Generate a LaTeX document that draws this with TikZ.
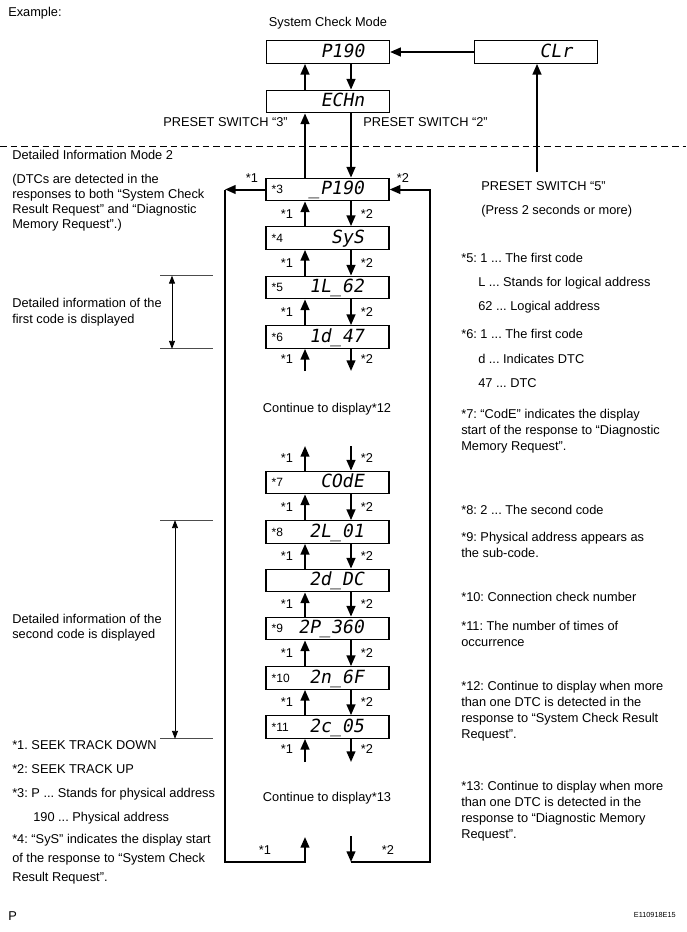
\documentclass[tikz,border=0pt]{standalone}
\usepackage{fontspec}
\setmainfont{Liberation Sans}
\newfontfamily\lcd[FakeSlant=0.18]{DejaVu Sans Mono}
\usetikzlibrary{arrows.meta,calc}
\frenchspacing
\newcommand\dbx[5]{%
  \node[dbox] (#1) at (#2,#3) {};
  \node[disp] (#1d) at ($(#1.center)+(36.5,5.2)$) {#5};
  \node[tag] (#1t) at ($(#1.west)+(6,4)$) {#4};
}
\begin{document}
\begin{tikzpicture}[x=0.75pt,y=-0.75pt,
  every node/.style={font=\fontsize{9.6}{12}\selectfont, inner sep=0pt},
  dbox/.style={draw, line width=0.9pt, minimum width=92.25pt, minimum height=16.9pt},
  disp/.style={font=\lcd\fontsize{13.6}{14}\selectfont, anchor=base east},
  tag/.style={font=\fontsize{9}{10}\selectfont, anchor=base west},
  arr/.style={line width=1.5pt, -{Triangle[length=8pt,width=6.5pt]}},
  barr/.style={line width=0.6pt, {Triangle[length=6pt,width=4.5pt]}-{Triangle[length=6pt,width=4.5pt]}},
  tick/.style={line width=0.6pt, black!70},
  lbl/.style={anchor=center},
  txt/.style={anchor=base west},
  para/.style={anchor=north west, align=left},
]
\fill[white] (0,0) rectangle (686,932);
\useasboundingbox (0,0) rectangle (686,932);

\coordinate (UP) at (305,0);
\coordinate (DN) at (351,0);
\coordinate (L1) at (287,0);
\coordinate (L2) at (367,0);

% display boxes
\dbx{p190}{328}{52}{}{P190}
\dbx{echn}{328}{101.5}{}{ECHn}
\dbx{clr}{536}{52}{}{CLr}
\dbx{b3}{327.5}{189.5}{*3}{\_P190}
\dbx{b4}{327.5}{238}{*4}{SyS}
\dbx{b5}{327.5}{287.5}{*5}{1L\_62}
\dbx{b6}{327.5}{337}{*6}{1d\_47}
\dbx{b7}{327.5}{482.5}{*7}{COdE}
\dbx{b8}{327.5}{532}{*8}{2L\_01}
\dbx{b8a}{327.5}{580.5}{}{2d\_DC}
\dbx{b9}{327.5}{628.5}{*9}{2P\_360}
\dbx{b10}{327.5}{678}{*10}{2n\_6F}
\dbx{b11}{327.5}{727}{*11}{2c\_05}

% top connectors
\draw[arr] (echn.north -| UP) -- (p190.south -| UP);
\draw[arr] (p190.south -| DN) -- (echn.north -| DN);
\draw[arr] (b3.north -| UP) -- (echn.south -| UP);
\draw[arr] (echn.south -| DN) -- (b3.north -| DN);
\draw[arr] (clr.west) -- (p190.east);
\coordinate (c5) at (537,172);
\draw[arr] (c5) -- (clr.south -| c5);

% chain connectors
\foreach \a/\b in {b3/b4,b4/b5,b5/b6,b7/b8,b8/b8a,b8a/b9,b9/b10,b10/b11}{
  \draw[arr] (\b.north -| UP) -- (\a.south -| UP);
  \draw[arr] (\a.south -| DN) -- (\b.north -| DN);
  \coordinate (m\a) at ($(\a.south)!0.5!(\b.north)$);
  \node[lbl] (la\a) at (m\a -| L1) {*1};
  \node[lbl] (lb\a) at (m\a -| L2) {*2};
}

% free ends
\coordinate (e6) at (0,371);
\draw[arr] (e6 -| UP) -- (b6.south -| UP);
\draw[arr] (b6.south -| DN) -- (e6 -| DN);
\node[lbl] (la6) at (287,359) {*1};
\node[lbl] (lb6) at (367,359) {*2};
\coordinate (s7) at (0,446);
\draw[arr] (b7.north -| UP) -- (s7 -| UP);
\draw[arr] (s7 -| DN) -- (b7.north -| DN);
\node[lbl] (la7) at (287,458) {*1};
\node[lbl] (lb7) at (367,458) {*2};
\coordinate (e11) at (0,762);
\draw[arr] (e11 -| UP) -- (b11.south -| UP);
\draw[arr] (b11.south -| DN) -- (e11 -| DN);
\node[lbl] (la11) at (287,749) {*1};
\node[lbl] (lb11) at (367,749) {*2};

% loop
\coordinate (LB) at (225,862);
\coordinate (RB) at (430,862);
\coordinate (bu) at (305,837);
\coordinate (bd) at (351,836);
\draw[arr] (b3.west) -- (b3.west -| LB);
\draw[arr] (b3.west -| LB) -- (LB) -- (LB -| bu) -- (bu);
\draw[arr] (bd) -- (bd |- RB);
\draw[arr] (bd |- RB) -- (RB) -- (RB |- b3.east) -- (b3.east);
\node[lbl] (lt1) at (252,178) {*1};
\node[lbl] (lt2) at (403,178) {*2};
\node[lbl] (lbt1) at (265,850) {*1};
\node[lbl] (lbt2) at (388,850) {*2};

% dashed separator
\draw[line width=0.75pt, dash pattern=on 5pt off 3pt] (0,146) -- (686,146);

% brackets
\coordinate (TL) at (160,0); \coordinate (TR) at (213,0);
\coordinate (A1) at (172,0); \coordinate (A2) at (175,0);
\draw[tick] (b5.north -| TL) -- (b5.north -| TR);
\draw[tick] (b6.south -| TL) -- (b6.south -| TR);
\draw[barr] (b5.north -| A1) -- (b6.south -| A1);
\draw[tick] (b8.north -| TL) -- (b8.north -| TR);
\draw[tick] (b11.south -| TL) -- (b11.south -| TR);
\draw[barr] (b8.north -| A2) -- (b11.south -| A2);

% texts
\node[txt] (ex) at (8,16.5) {Example:};
\node[anchor=base] (scm) at (328,26.5) {System Check Mode};
\node[txt] (ps3) at (163,126.5) {PRESET SWITCH “3”};
\node[txt] (ps2) at (363,126.5) {PRESET SWITCH “2”};
\node[txt] (dim) at (12,159.5) {Detailed Information Mode 2};
\node[para, font=\fontsize{9.6}{11.25}\selectfont] (dtc) at (12,173) {\strut(DTCs are detected in the\\responses to both “System Check\\Result Request” and “Diagnostic\\Memory Request”.)};
\node[para] (bt1) at (12,296.3) {\strut Detailed information of the\\first code is displayed};
\node[para, font=\fontsize{9.6}{11.25}\selectfont] (bt2) at (12,613) {\strut Detailed information of the\\second code is displayed};
\node[anchor=base] (c12) at (327,412.5) {Continue to display*12};
\node[anchor=base] (c13) at (327,801.5) {Continue to display*13};

\node[txt] (f1) at (12,749.5) {*1. SEEK TRACK DOWN};
\node[txt] (f2) at (12,773.5) {*2: SEEK TRACK UP};
\node[txt] (f3) at (12,797.5) {*3: P ... Stands for physical address};
\node[txt] (f3b) at (33,821.5) {190 ... Physical address};
\node[para, font=\fontsize{9.6}{14.25}\selectfont] (f4) at (12,830.2) {\strut *4: “SyS” indicates the display start\\of the response to “System Check\\Result Request”.};

\node[txt] (ps5) at (481,190.5) {PRESET SWITCH “5”};
\node[txt] (ps5b) at (481,214.5) {(Press 2 seconds or more)};
\node[txt] (r5) at (461,262.5) {*5: 1 ... The first code};
\node[txt] (r5b) at (478,286.5) {L ... Stands for logical address};
\node[txt] (r5c) at (478,310.5) {62 ... Logical address};
\node[txt] (r6) at (461,338.5) {*6: 1 ... The first code};
\node[txt] (r6b) at (478,363.5) {d ... Indicates DTC};
\node[txt] (r6c) at (478,387.5) {47 ... DTC};
\node[para] (r7) at (461,407.3) {\strut *7: “CodE” indicates the display\\start of the response to “Diagnostic\\Memory Request”.};
\node[txt] (r8) at (461,514.5) {*8: 2 ... The second code};
\node[para] (r9) at (461,530.3) {\strut *9: Physical address appears as\\the sub-code.};
\node[txt] (r10) at (461,601.5) {*10: Connection check number};
\node[para] (r11) at (461,619.3) {\strut *11: The number of times of\\occurrence};
\node[para] (r12) at (461,679.3) {\strut *12: Continue to display when more\\than one DTC is detected in the\\response to “System Check Result\\Request”.};
\node[para] (r13) at (461,779.3) {\strut *13: Continue to display when more\\than one DTC is detected in the\\response to “Diagnostic Memory\\Request”.};

\node[txt] (pp) at (8,920) {P};
\node[anchor=base east, font=\fontsize{5.5}{6}\selectfont] (code) at (676,917) {E110918E15};
\end{tikzpicture}
\end{document}
